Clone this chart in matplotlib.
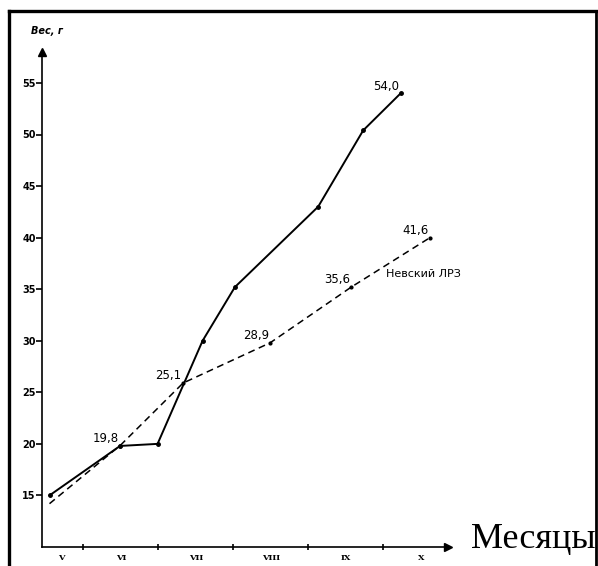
import matplotlib
matplotlib.use("Agg")
import matplotlib.pyplot as plt
from matplotlib.lines import Line2D

# месяцы: V=5 ... X=10
months_solid = [5.05, 5.99, 6.49, 7.09, 7.52, 8.63, 9.23, 9.73]
weight_solid = [15.0, 19.8, 20.0, 30.0, 35.2, 43.0, 50.4, 54.0]

months_dash = [5.05, 6.0, 6.83, 7.99, 9.07, 10.12]
weight_dash = [14.2, 19.9, 25.9, 29.8, 35.2, 40.0]

# подписанные точки (x, y, текст)
label_x = [5.99, 6.83, 7.99, 9.07, 10.12, 9.73]
label_y = [19.8, 25.9, 29.8, 35.2, 40.0, 54.0]
label_txt = ["19,8", "25,1", "28,9", "35,6", "41,6", "54,0"]

yticks = [15, 20, 25, 30, 35, 40, 45, 50, 55]
roman_pos = [5.21, 6, 7, 8, 9, 10]
roman_lbl = ["V", "VI", "VII", "VIII", "IX", "X"]

W, H = 598, 566
fig = plt.figure(figsize=(W / 100, H / 100), dpi=100)
ax = fig.add_axes([42 / W, 1 - 547 / H, (448 - 42) / W, (547 - 52) / H])
ax.set_xlim(4.95, 10.36)
ax.set_ylim(10, 58)

ax.plot(months_solid, weight_solid, color="black", lw=1.4, marker="o", ms=2.5)
ax.plot(months_dash, weight_dash, color="black", lw=1.1, dashes=(4.5, 3))
ax.plot(label_x[:5], label_y[:5], "o", color="black", ms=2)

for x, y, t in zip(label_x, label_y, label_txt):
    ax.annotate(t, (x, y), xytext=(-1, 0.5), textcoords="offset points",
                ha="right", va="bottom", fontsize=8.5, family="DejaVu Sans")

ax.text(9.53, 36.45, "Невский ЛРЗ", fontsize=8, family="DejaVu Sans",
        ha="left", va="center")

for s in ["top", "right"]:
    ax.spines[s].set_visible(False)
ax.spines["left"].set_linewidth(1.2)
ax.spines["bottom"].set_linewidth(1.2)
ax.plot([0], [1], marker="^", color="black", ms=6, transform=ax.transAxes, clip_on=False)
ax.plot([1], [0], marker=">", color="black", ms=6, transform=ax.transAxes, clip_on=False)

ax.set_yticks(yticks)
ax.set_yticklabels([str(v) for v in yticks], fontsize=7, fontweight="bold")
ax.tick_params(axis="y", direction="out", length=4, width=1.2, pad=0.5)

ax.set_xticks(roman_pos)
ax.set_xticklabels(roman_lbl, fontsize=6, fontweight="bold", family="DejaVu Serif")
ax.set_xticks([5.5 + 0.5 * i for i in range(10)], minor=True)
ax.tick_params(axis="x", which="major", length=0, pad=5)
ax.tick_params(axis="x", which="minor", direction="inout", length=5, width=1.2)

fig.text(47 / W, 1 - 31 / H, "Вес, г", fontsize=7, style="italic", fontweight="bold",
         ha="center", va="center")
fig.text(471 / W, 1 - 548 / H, "Месяцы", fontsize=26, family="Liberation Serif",
         ha="left", va="baseline")

# рамка
fig.add_artist(Line2D([9 / W, 9 / W], [0, 1 - 11 / H], color="black", lw=2.4))
fig.add_artist(Line2D([9 / W, 596 / W], [1 - 11 / H, 1 - 11 / H], color="black", lw=2.4))
fig.add_artist(Line2D([596 / W, 596 / W], [0, 1 - 11 / H], color="black", lw=2.0))

fig.savefig("out.png", dpi=100)
